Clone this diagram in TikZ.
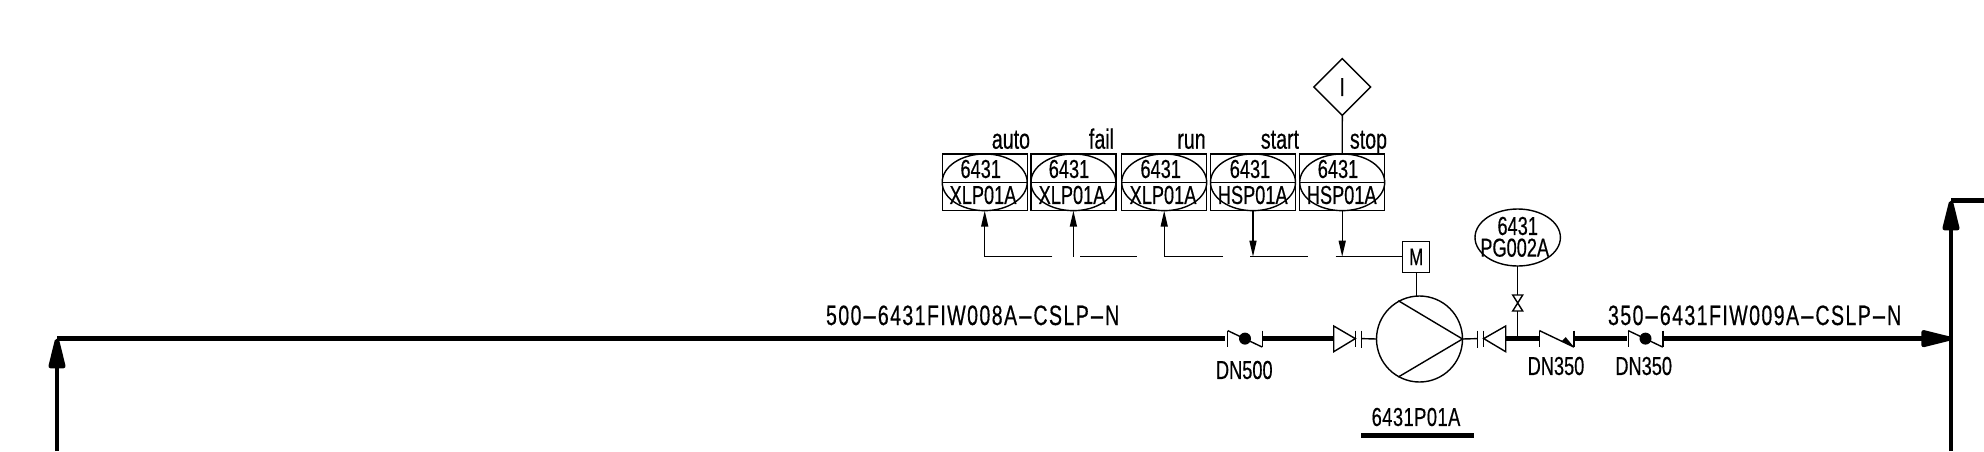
\documentclass[tikz,border=0pt]{standalone}
\usepackage{fontspec}
\setmainfont[FakeStretch=0.7,FakeBold=0.4]{Liberation Sans}
\usetikzlibrary{shapes.geometric,arrows.meta}
\newcommand{\widehy}{\scalebox{2.5}[1]{-}}
\tikzset{
  thin line/.style={line width=1.4pt,line join=miter},
  pipe/.style={line width=4.6pt,line join=round},
  pipetip/.style={-{Triangle[length=38pt,width=17pt,round]}},
  sigtip/.style={-{Triangle[length=16pt,width=7pt]}},
  lbl/.style={inner sep=0pt,outer sep=0pt,font=\fontsize{26}{26}\selectfont},
  toplbl/.style={inner sep=0pt,outer sep=0pt,anchor=base east,font=\fontsize{28}{28}\selectfont},
  longlbl/.style={inner sep=0pt,outer sep=0pt,anchor=base west,font=\fontsize{28}{28}\selectfont\addfontfeature{LetterSpace=5}},
  boxnode/.style={draw,thin line,inner sep=0pt,outer sep=0pt,minimum width=85pt,minimum height=56.7pt},
  ovalnode/.style={draw,thin line,ellipse,inner sep=0pt,outer sep=0pt,minimum width=85pt,minimum height=56.7pt},
  ballcheck/.pic={
    \draw[thin line] (-17.3,-8) -- (-17.3,8.5);
    \draw[thin line] (17.3,-8) -- (17.3,8.5);
    \draw[thin line] (-17.3,-8) -- (17.3,8.5);
    \fill (0,0) circle (6pt);
  },
  arrowcheck/.pic={
    \draw[thin line] (-17.3,-8) -- (-17.3,8.5);
    \draw[thin line] (17.3,-8) -- (17.3,8.5);
    \draw[thin line] (-17.3,-8) -- (17.3,8.5);
    \fill (17.3,8.5) -- (5,2.7) -- (9,-1.5) -- cycle;
  },
}
\begin{document}
\begin{tikzpicture}[x=1pt,y=-1pt]
\useasboundingbox (0,0) rectangle (1984,451);
% instrument boxes
\foreach \n/\cx/\dx/\tx/\tg in {a/984.7/980.7/983/XLP01A,b/1073.4/1069/1072/XLP01A,c/1164.2/1160.7/1163/XLP01A,d/1253/1250/1252.7/HSP01A,e/1342.2/1338/1341.7/HSP01A}{
  \node[boxnode] (box\n) at (\cx,182.3) {};
  \node[ovalnode] (oval\n) at (\cx,182.3) {};
  \draw[thin line] (oval\n.west) -- (oval\n.east);
  \node[lbl] (num\n) at (\dx,169) {6431};
  \node[lbl] (tag\n) at (\tx,195) {\tg};
}
\node[toplbl] (lauto) at (1030,148.7) {auto};
\node[toplbl] (lfail) at (1114,148.7) {fail};
\node[toplbl] (lrun) at (1205.7,148.7) {run};
\node[toplbl] (lstart) at (1299,148.7) {start};
\node[toplbl] (lstop) at (1387,148.7) {stop};
% interlock diamond
\node[draw,thin line,diamond,aspect=1,inner sep=0pt,outer sep=0pt,minimum width=56.7pt,minimum height=56.7pt,lbl] (dia) at (1342.3,87) {I};
\draw[thin line] (dia.south) -- (boxe.north);
% motor
\node[draw,thin line,inner sep=0pt,outer sep=0pt,minimum width=27pt,minimum height=31pt,font=\fontsize{24}{24}\selectfont] (mot) at (1416.2,256.8) {M};
% signal lines
\coordinate (s1) at (boxa.south |- 0,256.7);
\coordinate (s1e) at (1052.3,256.7);
\coordinate (s2) at (boxb.south |- 0,256.7);
\coordinate (s2s) at (1080.3,256.7);
\coordinate (s2e) at (1137.3,256.7);
\coordinate (s3) at (boxc.south |- 0,256.7);
\coordinate (s3e) at (1223,256.7);
\coordinate (s4) at (boxd.south |- 0,256.7);
\coordinate (s4s) at (1250,256.7);
\coordinate (s4e) at (1307.7,256.7);
\coordinate (s5) at (boxe.south |- 0,256.7);
\coordinate (s5s) at (1335.7,256.7);
\draw[thin line] (s1e) -- (s1);
\draw[thin line,sigtip] (s1) -- (boxa.south);
\draw[thin line,sigtip] (s2) -- (boxb.south);
\draw[thin line] (s2s) -- (s2e);
\draw[thin line] (s3e) -- (s3);
\draw[thin line,sigtip] (s3) -- (boxc.south);
\draw[thin line,sigtip] (boxd.south) -- (s4);
\draw[thin line] (s4s) -- (s4e);
\draw[thin line,sigtip] (boxe.south) -- (s5);
\draw[thin line] (s5s) -- (mot.west |- s5s);
% pump
\node[draw,thin line,circle,inner sep=0pt,outer sep=0pt,minimum size=86pt] (pump) at (1419.5,339) {};
\draw[thin line] (mot.south) -- (1416.2,296.1);
\draw[thin line] (1398.3,300.7) -- (pump.east) -- (1398.3,377);
% reducers and flanges
\draw[thin line] (1333.7,326) -- (1355.3,338.6) -- (1333.7,351.7) -- cycle;
\draw[thin line] (1355.3,330.7) -- (1355.3,347);
\draw[thin line] (1361.3,330.7) -- (1361.3,348);
\draw[thin line] (1361.3,338.6) -- (pump.west);
\draw[thin line] (pump.east) -- (1477.3,338.6);
\draw[thin line] (1477.3,330.7) -- (1477.3,348);
\draw[thin line] (1483.7,330.7) -- (1483.7,347);
\draw[thin line] (1505.7,326) -- (1483.7,338.6) -- (1505.7,351.7) -- cycle;
% valves
\pic at (1245,338.6) {ballcheck};
\pic at (1556.7,338.6) {arrowcheck};
\pic at (1645.5,338.6) {ballcheck};
% process pipes
\coordinate (lcorner) at (57,338.6);
\coordinate (lbottom) at (57,451);
\coordinate (rtee) at (1951,338.6);
\coordinate (rcorner) at (1951,200.7);
\coordinate (rbottom) at (1951,451);
\coordinate (rend) at (1984,200.7);
\draw[pipe] (lcorner) -- (1225.4,338.6);
\draw[pipe,pipetip] (lbottom) -- (lcorner);
\draw[pipe] (1263.4,338.6) -- (1333.7,338.6);
\draw[pipe] (1505.7,338.6) -- (1539.4,338.6);
\draw[pipe] (1575,338.6) -- (1627,338.6);
\draw[pipe,pipetip] (1664,338.6) -- (rtee);
\draw[pipe,pipetip] (rbottom) -- (rcorner);
\draw[pipe] (rcorner) -- (rend);
% pressure gauge
\node[draw,thin line,ellipse,inner sep=0pt,outer sep=0pt,minimum width=85.4pt,minimum height=57pt] (gauge) at (1517.7,237.5) {};
\node[lbl] (gnum) at (1517.7,226) {6431};
\node[lbl] (gtag) at (1514.7,247.7) {PG002A};
\coordinate (bt) at (1517.7,295);
\coordinate (bb) at (1517.7,311);
\coordinate (gp) at (1517.7,338.6);
\draw[thin line] (gauge.south) -- (bt);
\draw[thin line] (bb) -- (gp);
\draw[thin line] (1512.7,295) -- (1522.7,295) -- (1512.7,311) -- (1522.7,311) -- cycle;
% labels
\node[longlbl] (l500) at (826,325) {500\widehy6431FIW008A\widehy CSLP\widehy N};
\node[longlbl] (l350) at (1608,325) {350\widehy6431FIW009A\widehy CSLP\widehy N};
\node[lbl] (d500) at (1244.3,370) {DN500};
\node[lbl] (d350a) at (1556,366) {DN350};
\node[lbl] (d350b) at (1643.7,366) {DN350};
\node[lbl,font=\fontsize{26}{26}\selectfont\addfontfeature{LetterSpace=2}] (ptag) at (1416,417) {6431P01A};
\coordinate (ul) at (1361,435.3);
\coordinate (ur) at (1474,435.3);
\draw[pipe] (ul) -- (ur);
\end{tikzpicture}
\end{document}
